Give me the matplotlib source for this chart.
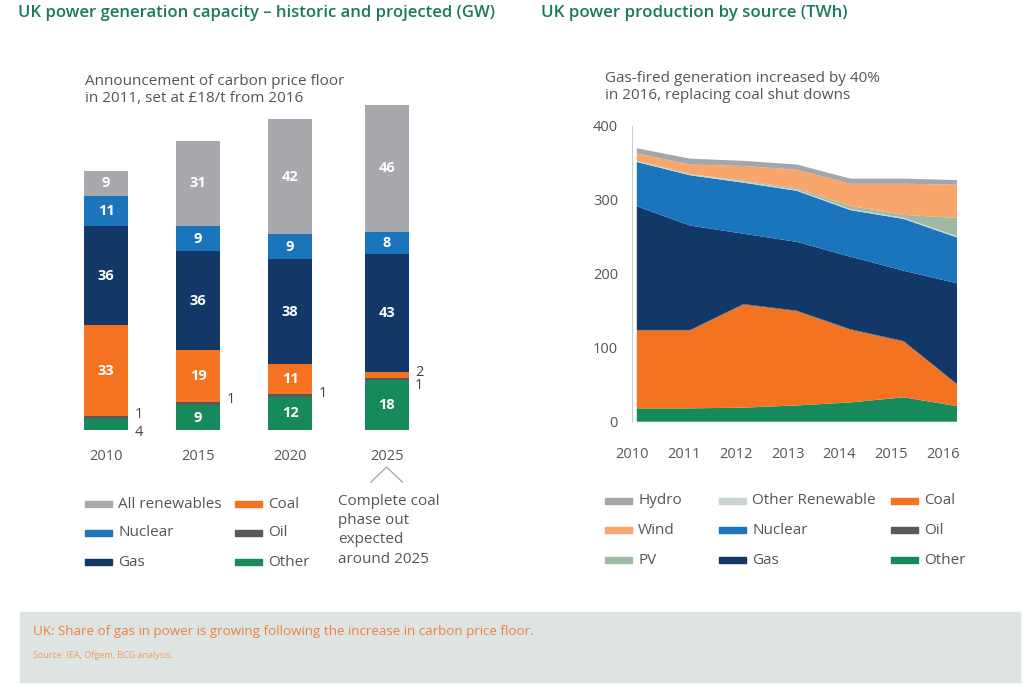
import numpy as np
import matplotlib.pyplot as plt
from matplotlib.patches import Rectangle
from matplotlib.transforms import blended_transform_factory

plt.rcParams['font.family'] = ['Open Sans', 'DejaVu Sans']

W, H = 1024, 684
def fx(px):
    return px / W
def fy(py):
    return 1 - py / H

# capacity data (GW)
cap_years = ['2010', '2015', '2020', '2025']
cap_other = [4, 9, 12, 18]
cap_oil = [1, 1, 1, 1]
cap_coal = [33, 19, 11, 2]
cap_gas = [36, 36, 38, 43]
cap_nuclear = [11, 9, 9, 8]
cap_renew = [9, 31, 42, 46]

# production data (TWh)
prod_years = ['2010', '2011', '2012', '2013', '2014', '2015', '2016']
prod_other = [18, 18, 19, 22, 26, 33, 21]
prod_coal = [105, 105, 139, 127, 98, 75, 29]
prod_oil = [1, 1, 1, 1, 1, 1, 1]
prod_gas = [167, 141, 95, 93, 98, 95, 136]
prod_nuclear = [60, 68, 69, 69, 63, 70, 62]
prod_other_ren = [1.5, 1.5, 1.5, 1.5, 1.5, 1.5, 1.5]
prod_pv = [0, 0, 1, 2, 4, 4, 25]
prod_wind = [10, 13, 20, 25, 30, 42, 45]
prod_hydro = [7, 8, 7, 7, 7, 7, 6]

#colori
c_renew = '#a8a9ad'
c_nuclear = '#1b75bc'
c_gas = '#133766'
c_coal = '#f47321'
c_oil = '#58595b'
c_other = '#178a5c'
c_wind = '#f9a66c'
c_pv = '#9fb9a3'
c_oren = '#c9d5d1'
c_hydro = '#a4a6aa'
c_text = '#555555'
c_title = '#1a7a55'

fig = plt.figure(figsize=(10.24, 6.84), dpi=100)

# titles
fig.text(fx(18), fy(13), 'UK power generation capacity – historic and projected (GW)',
         color=c_title, fontsize=12, fontweight='semibold', va='center')
fig.text(fx(541), fy(13), 'UK power production by source (TWh)',
         color=c_title, fontsize=12.2, fontweight='semibold', va='center')

fig.text(fx(85), fy(90), 'Announcement of carbon price floor\nin 2011, set at £18/t from 2016',
         color=c_text, fontsize=11, va='center', linespacing=1.25)
fig.text(fx(605), fy(87), 'Gas-fired generation increased by 40%\nin 2016, replacing coal shut downs',
         color=c_text, fontsize=11, va='center', linespacing=1.25)

# ---- left: stacked bars
ax1 = fig.add_axes([fx(60), fy(430), fx(380), 325 / H])
xpos = np.array([0, 1, 2, 3.05])
layers = [(cap_other, c_other), (cap_oil, c_oil), (cap_coal, c_coal),
          (cap_gas, c_gas), (cap_nuclear, c_nuclear), (cap_renew, c_renew)]
bottom = np.zeros(4)
for vals, col in layers:
    vals = np.array(vals, dtype=float)
    ax1.bar(xpos, vals, bottom=bottom, width=0.48, color=col, linewidth=0)
    for i in range(4):
        if vals[i] >= 8:
            ax1.text(xpos[i], bottom[i] + vals[i] / 2, str(int(vals[i])), color='white',
                     fontsize=10.5, fontweight='bold', ha='center', va='center')
    bottom += vals

# small values labelled outside the bars
outside = [(0, cap_oil[0], 5.8), (0, cap_other[0], -0.9), (1, cap_oil[1], 10.9),
           (2, cap_oil[2], 13.4), (3, cap_coal[3], 21.0), (3, cap_oil[3], 16.0)]
for i, v, yy in outside:
    ax1.text(xpos[i] + 0.31, yy, str(v), color='#444444', fontsize=10.5, ha='left', va='center')

ax1.set_xlim(-0.5, 3.63)
ax1.set_ylim(0, 118)
ax1.set_xticks(xpos)
ax1.set_xticklabels(cap_years, color=c_text, fontsize=10.5)
ax1.tick_params(axis='x', length=0, pad=14)
ax1.set_yticks([])
for s in ax1.spines.values():
    s.set_visible(False)

tr = blended_transform_factory(ax1.transData, ax1.transAxes)
ax1.plot([xpos[3] - 0.17, xpos[3], xpos[3] + 0.17], [-0.16, -0.114, -0.16],
         color='#aaaaaa', lw=1, transform=tr, clip_on=False)

# ---- right: stacked area
ax2 = fig.add_axes([fx(632), fy(421.7), fx(325), 296 / H])
x = np.arange(len(prod_years))
ax2.stackplot(x, prod_other, prod_coal, prod_oil, prod_gas, prod_nuclear,
              prod_other_ren, prod_pv, prod_wind, prod_hydro,
              colors=[c_other, c_coal, c_oil, c_gas, c_nuclear, c_oren, c_pv, c_wind, c_hydro],
              linewidth=0)
ax2.set_xlim(0, 6)
ax2.set_ylim(0, 400)
ax2.set_yticks([0, 100, 200, 300, 400])
ax2.set_xticks(np.linspace(-0.09, 5.74, 7))
ax2.set_xticklabels(prod_years)
ax2.tick_params(axis='both', length=0, labelcolor=c_text, labelsize=10.5)
ax2.tick_params(axis='x', pad=18)
ax2.tick_params(axis='y', pad=10)
for s in ['top', 'right', 'bottom']:
    ax2.spines[s].set_visible(False)
ax2.spines['left'].set_color('#cccccc')
ax2.spines['left'].set_linewidth(0.8)

# ---- legends
def entry(px, py, col, label):
    fig.add_artist(Rectangle((fx(px), fy(py + 3)), fx(27), 6 / H, color=col,
                             transform=fig.transFigure))
    fig.text(fx(px + 33), fy(py), label, color=c_text, fontsize=11, va='center')

entry(85, 504, c_renew, 'All renewables')
entry(85, 533, c_nuclear, 'Nuclear')
entry(85, 562, c_gas, 'Gas')
entry(235, 504, c_coal, 'Coal')
entry(235, 533, c_oil, 'Oil')
entry(235, 562, c_other, 'Other')
fig.text(fx(338), fy(494), 'Complete coal\nphase out\nexpected\naround 2025', color=c_text,
         fontsize=11, va='top', linespacing=1.38)

entry(605, 501, c_hydro, 'Hydro')
entry(605, 530, c_wind, 'Wind')
entry(605, 560, c_pv, 'PV')
entry(719, 501, c_oren, 'Other Renewable')
entry(719, 530, c_nuclear, 'Nuclear')
entry(719, 560, c_gas, 'Gas')
entry(891, 501, c_coal, 'Coal')
entry(891, 530, c_oil, 'Oil')
entry(891, 560, c_other, 'Other')

# ---- footer
fig.add_artist(Rectangle((fx(20), fy(682)), fx(1000), 70 / H, color='#dde4e1',
                         transform=fig.transFigure, zorder=0))
fig.text(fx(33), fy(632), 'UK: Share of gas in power is growing following the increase in carbon price floor.',
         color='#f07f3c', fontsize=9.6, va='center')
fig.text(fx(33), fy(656), 'Source: IEA, Ofgem, BCG analysis.', color='#f29a66', fontsize=6.5,
         va='center')

plt.savefig('out.png', dpi=100)
